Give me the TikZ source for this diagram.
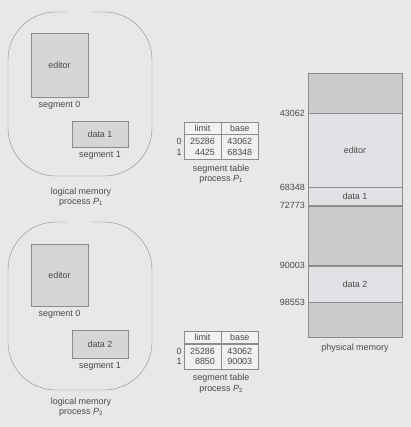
\documentclass[tikz,border=0pt]{standalone}
\usepackage{fontspec}
\setmainfont{Liberation Sans}
\usepackage{xcolor}
\usetikzlibrary{positioning}
\definecolor{bg}{HTML}{E8E8E8}
\definecolor{ink}{HTML}{4A4A4A}
\definecolor{rule}{HTML}{8C8C8C}
\definecolor{segfill}{HTML}{D6D6D8}
\definecolor{memused}{HTML}{E2E2E6}
\definecolor{memfree}{HTML}{CBCBCB}
\newcommand{\procP}[1]{{\itshape P}\textsubscript{#1}}
\tikzset{
  lbl/.style = {text=ink, font=\fontsize{9}{10.5}\selectfont, inner sep=0pt, align=center},
  seg_box/.style = {draw=rule, fill=segfill, inner sep=0pt, lbl},
  blob/.style = {draw=rule, thin, rounded corners=48},
  mem_used/.style = {draw=rule, fill=memused, minimum width=94, inner sep=0pt, lbl},
  mem_free/.style = {draw=rule, fill=memfree, minimum width=94, inner sep=0pt},
  addr/.style = {lbl, anchor=east},
  tab_head/.style = {draw=rule, fill=bg!60!white, minimum width=37, minimum height=12, inner sep=0pt, lbl},
  tab_body/.style = {draw=rule, fill=bg!60!white, minimum width=37, minimum height=25, inner sep=1.5pt, lbl, align=right}
}
\begin{document}
\begin{tikzpicture}[x=1bp, y=-1bp]
\fill[bg] (0,0) rectangle (411,427);
\useasboundingbox (0,0) rectangle (411,427);

% process P1
\draw[blob] (90,12) -- (152,12) -- (152,176) -- (8,176) -- (8,12) -- (67,12);
\node[seg_box, minimum width=57, minimum height=64] (ed1) at (59.5,65) {editor};
\node[lbl, below=4pt of ed1] (s01) {segment 0};
\node[seg_box, minimum width=56, minimum height=26] (da1) at (100,134) {data 1};
\node[lbl, below=4pt of da1] (s11) {segment 1};
\node[lbl] (lm1) at (81,197) {logical memory\\process \procP{1}};

% process P2
\draw[blob] (90,222) -- (152,222) -- (152,390) -- (8,390) -- (8,222) -- (67,222);
\node[seg_box, minimum width=57, minimum height=62] (ed2) at (59.5,275) {editor};
\node[lbl, below=4pt of ed2] (s02) {segment 0};
\node[seg_box, minimum width=56, minimum height=28] (da2) at (100,344) {data 2};
\node[lbl, below=4pt of da2] (s12) {segment 1};
\node[lbl] (lm2) at (81,407) {logical memory\\process \procP{2}};

% segment table P1
\node[tab_head] (lim1) at (202.5,128) {limit};
\node[tab_head, right=0pt of lim1] (bas1) {base};
\node[tab_body, below=0pt of lim1] (limv1) {25286\\4425};
\node[tab_body, below=0pt of bas1] (basv1) {43062\\68348};
\node[lbl, left=2pt of limv1] (idx1) {0\\1};
\node[lbl, below=5pt of limv1.south east] (st1) {segment table\\process \procP{1}};

% segment table P2
\node[tab_head] (lim2) at (202.5,337.5) {limit};
\node[tab_head, right=0pt of lim2] (bas2) {base};
\node[tab_body, below=0pt of lim2] (limv2) {25286\\8850};
\node[tab_body, below=0pt of bas2] (basv2) {43062\\90003};
\node[lbl, left=2pt of limv2] (idx2) {0\\1};
\node[lbl, below=5pt of limv2.south east] (st2) {segment table\\process \procP{2}};

% physical memory
\node[mem_free, minimum height=40, anchor=north] (m0) at (355,73) {};
\node[mem_used, minimum height=74, below=0pt of m0] (m1) {editor};
\node[mem_used, minimum height=18, below=0pt of m1] (m2) {data 1};
\node[mem_free, minimum height=60, below=0pt of m2] (m3) {};
\node[mem_used, minimum height=36, below=0pt of m3] (m4) {data 2};
\node[mem_free, minimum height=35, below=0pt of m4] (m5) {};
\node[lbl, below=6pt of m5] (pm) {physical memory};
\node[addr] (a1) at ([xshift=-3pt]m1.north west) {43062};
\node[addr] (a2) at ([xshift=-3pt]m2.north west) {68348};
\node[addr] (a3) at ([xshift=-3pt]m3.north west) {72773};
\node[addr] (a4) at ([xshift=-3pt]m4.north west) {90003};
\node[addr] (a5) at ([xshift=-3pt]m5.north west) {98553};
\end{tikzpicture}
\end{document}
